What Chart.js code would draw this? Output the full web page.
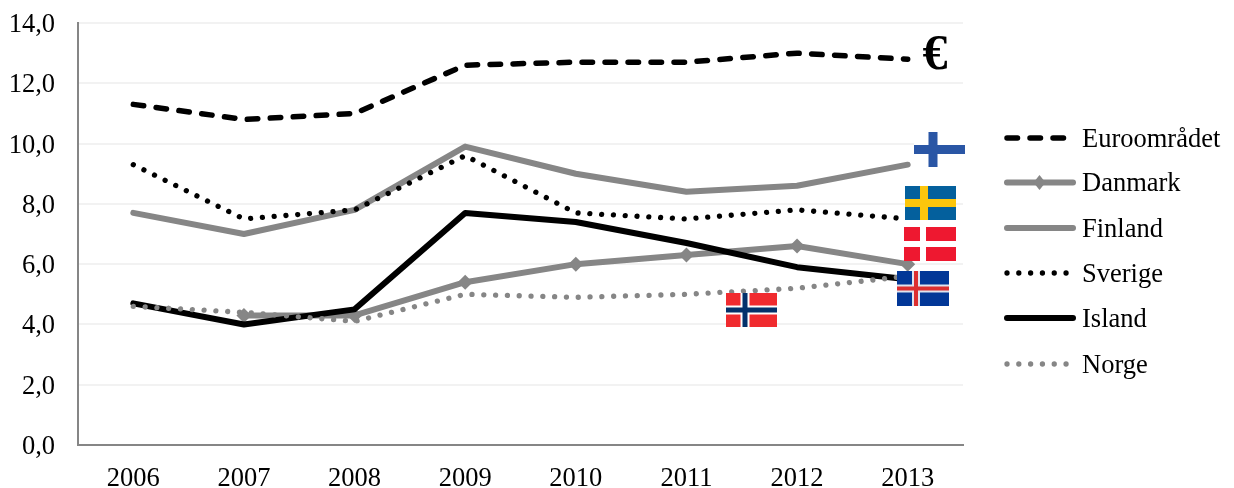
<!DOCTYPE html>
<html>
<head>
<meta charset="utf-8">
<style>
	html, body { margin: 0; padding: 0; background: #ffffff; }
	#wrap { width: 1234px; height: 488px; }
</style>
<script src="https://cdn.jsdelivr.net/npm/chart.js@4"></script>
</head>
<body>
<div id="wrap"><canvas id="myChart" width="1234" height="488"></canvas></div>
<script>
const years = ["2006", "2007", "2008", "2009", "2010", "2011", "2012", "2013"];

const euroomradet = [11.3, 10.8, 11.0, 12.6, 12.7, 12.7, 13.0, 12.8];
const danmark = [null, 4.3, 4.3, 5.4, 6.0, 6.3, 6.6, 6.0];
const finland = [7.7, 7.0, 7.8, 9.9, 9.0, 8.4, 8.6, 9.3];
const sverige = [9.3, 7.5, 7.8, 9.6, 7.7, 7.5, 7.8, 7.5];
const island = [4.7, 4.0, 4.5, 7.7, 7.4, 6.7, 5.9, 5.5];
const norge = [4.6, 4.4, 4.1, 5.0, 4.9, 5.0, 5.2, 5.6];

const BLACK = "#000000";
const GREY = "#868686";
const FONT = "'Liberation Serif', serif";
const FONT_SIZE = 26.5;

const makeSeries = (label, data, color, width, dash, order) => ({
	label: label,
	data: data,
	borderColor: color,
	backgroundColor: color,
	borderWidth: width,
	borderDash: dash,
	borderCapStyle: "round",
	borderJoinStyle: "round",
	pointRadius: 0,
	tension: 0,
	spanGaps: false,
	order: order,
});

const datasets = [
	makeSeries("Euroområdet", euroomradet, BLACK, 5.5, [10.5, 12.5], 6),
	makeSeries("Danmark", danmark, GREY, 6, [], 5),
	makeSeries("Finland", finland, GREY, 6, [], 4),
	makeSeries("Sverige", sverige, BLACK, 5.3, [0.01, 11.8], 3),
	makeSeries("Island", island, BLACK, 6, [], 2),
	makeSeries("Norge", norge, GREY, 5.3, [0.01, 11.8], 1),
];

// Danmark is the only series with markers
datasets[1].pointStyle = "rectRot";
datasets[1].pointRadius = 7.5;
datasets[1].pointBorderWidth = 0;

// flags next to the line ends: [x, y, w, h, field, edge, edgeT, cross, crossT]
const flags = [
	[914, 132, 51, 35, "#ffffff", "#ffffff", 9, "#2a56a5", 9],
	[905, 186, 51, 34, "#04609d", "#04609d", 8, "#fcc60c", 8],
	[904, 227, 52, 34, "#ee1830", "#ffffff", 6, "#ffffff", 6],
	[897, 271, 52, 35, "#023797", "#dfe3ee", 8, "#dc2f30", 4],
	[726, 293, 51, 34, "#f02b2f", "#ffffff", 9, "#03316b", 5],
];

const drawFlag = (ctx, f) => {
	const [x, y, w, h, field, edge, edgeT, cross, crossT] = f;
	const cx = x + 19;
	const cy = y + h / 2;
	ctx.fillStyle = field;
	ctx.fillRect(x, y, w, h);
	ctx.fillStyle = edge;
	ctx.fillRect(cx - edgeT / 2, y, edgeT, h);
	ctx.fillRect(x, cy - edgeT / 2, w, edgeT);
	ctx.fillStyle = cross;
	ctx.fillRect(cx - crossT / 2, y, crossT, h);
	ctx.fillRect(x, cy - crossT / 2, w, crossT);
};

const annotations = {
	id: "annotations",
	afterDatasetsDraw(chart) {
		const ctx = chart.ctx;
		ctx.save();
		flags.forEach((f) => drawFlag(ctx, f));
		ctx.fillStyle = BLACK;
		ctx.font = "bold 50px " + FONT;
		ctx.textAlign = "center";
		ctx.textBaseline = "middle";
		ctx.fillText("€", 935, 56);
		ctx.restore();
	},
};

// Excel style legend, the row spacing is wider than the built-in one gives
const sideLegend = {
	id: "sideLegend",
	afterDraw(chart) {
		const ctx = chart.ctx;
		const rows = [138, 182.5, 228, 273, 318, 364];
		ctx.save();
		chart.data.datasets.forEach((ds, i) => {
			const y = rows[i];
			ctx.strokeStyle = ds.borderColor;
			ctx.lineWidth = ds.borderWidth;
			ctx.lineCap = "round";
			ctx.setLineDash(ds.borderDash);
			ctx.beginPath();
			ctx.moveTo(1007, y);
			ctx.lineTo(1073, y);
			ctx.stroke();
			ctx.setLineDash([]);
			if (ds.pointRadius > 0) {
				ctx.fillStyle = ds.borderColor;
				ctx.beginPath();
				ctx.moveTo(1039.5, y - 7.5);
				ctx.lineTo(1045.5, y);
				ctx.lineTo(1039.5, y + 7.5);
				ctx.lineTo(1033.5, y);
				ctx.closePath();
				ctx.fill();
			}
			ctx.fillStyle = BLACK;
			ctx.font = FONT_SIZE + "px " + FONT;
			ctx.textAlign = "left";
			ctx.textBaseline = "middle";
			ctx.fillText(ds.label, 1082, y + 2);
		});
		ctx.restore();
	},
};

window.onload = () => {
	new Chart(document.getElementById("myChart"), {
		type: "line",
		data: { labels: years, datasets: datasets },
		plugins: [annotations, sideLegend],
		options: {
			responsive: false,
			animation: false,
			layout: { padding: { left: 0, right: 271, top: 23, bottom: 0 } },
			plugins: {
				legend: { display: false },
				tooltip: { enabled: false },
			},
			scales: {
				x: {
					offset: true,
					afterFit: (scale) => {
						scale.height = 43;
						scale.paddingLeft = 0;
						scale.paddingRight = 0;
					},
					grid: { display: false, drawTicks: false },
					border: { color: GREY, width: 2 },
					ticks: { color: BLACK, padding: 18, maxRotation: 0, font: { family: FONT, size: FONT_SIZE } },
				},
				y: {
					min: 0,
					max: 14,
					afterFit: (scale) => {
						scale.width = 78;
						scale.paddingTop = 0;
						scale.paddingBottom = 0;
					},
					grid: { color: "#f2f2f2", lineWidth: 2, drawTicks: false },
					border: { color: GREY, width: 2 },
					ticks: {
						stepSize: 2,
						color: BLACK,
						padding: 23,
						labelOffset: 2,
						font: { family: FONT, size: FONT_SIZE },
						callback: (value) => value.toFixed(1).replace(".", ","),
					},
				},
			},
		},
	});
};
</script>
</body>
</html>
